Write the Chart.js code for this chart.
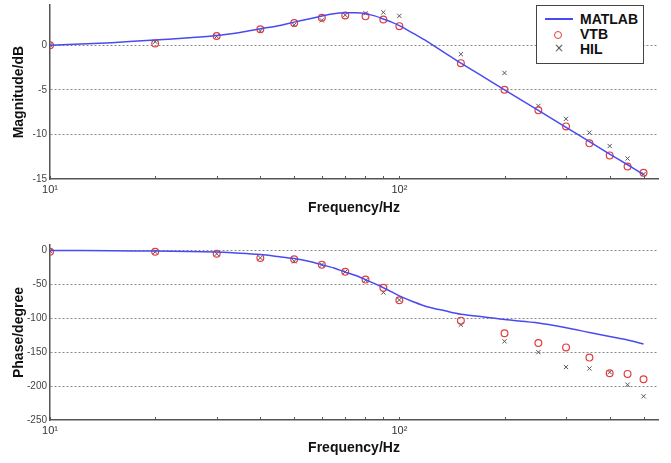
<!DOCTYPE html>
<html>
<head>
<meta charset="utf-8">
<script src="https://cdn.jsdelivr.net/npm/chart.js@4"></script>
<style>
html, body { margin: 0; padding: 0; background: #fff; }
#wrap { position: relative; width: 671px; height: 463px; overflow: hidden; }
#c1 { position: absolute; left: 0; top: 0; }
#c2 { position: absolute; left: 0; top: 217px; }
#legend { position: absolute; left: 536px; top: 5px; width: 106px; height: 57px; border: 1px solid #444; background: #fff;
  font: bold 14px 'Liberation Sans', Arial, sans-serif; color: #111; }
#legend .row { position: absolute; left: 0; height: 15px; width: 106px; }
#legend .txt { position: absolute; left: 43px; top: 0; line-height: 15px; }
#legend .ln { position: absolute; left: 8px; top: 6px; width: 28px; height: 2px; background: #4a4af2; }
#legend .circ { position: absolute; left: 17px; top: 4px; width: 6px; height: 6px; border: 1px solid #e23c3c; border-radius: 50%; }
#legend .x { position: absolute; left: 17px; top: -1px; font: normal 12px 'DejaVu Sans', sans-serif; color: #555; }
</style>
</head>
<body>
<div id="wrap">
  <canvas id="c1" width="671" height="217"></canvas>
  <canvas id="c2" width="671" height="246"></canvas>
  <div id="legend">
    <div class="row" style="top:6px"><span class="ln"></span><span class="txt">MATLAB</span></div>
    <div class="row" style="top:21px"><span class="circ"></span><span class="txt">VTB</span></div>
    <div class="row" style="top:36px"><span class="x">×</span><span class="txt">HIL</span></div>
  </div>
</div>
<script>
// measured points (Hz)
const freqs = [10, 20, 30, 40, 50, 60, 70, 80, 90, 100, 150, 200, 250, 300, 350, 400, 450, 500];
const magVTB = [0, 0.2, 1.05, 1.8, 2.5, 3.1, 3.35, 3.25, 2.9, 2.15, -2.0, -5.0, -7.3, -9.1, -11.0, -12.35, -13.6, -14.3];
const magHIL = [0, 0.4, 1.0, 1.6, 2.3, 2.8, 3.4, 3.6, 3.7, 3.3, -1.0, -3.1, -6.8, -8.25, -9.8, -11.3, -12.7, -14.45];
const phaseVTB = [-2, -2, -5, -11, -13, -21, -31.5, -43, -55, -73.5, -103.5, -122, -136.5, -143, -158, -181, -182, -190];
const phaseHIL = [-1, -2, -5, -11, -16, -21, -31.5, -44, -62, -73, -109.5, -134, -150, -172, -174, -179.5, -198, -215];

// MATLAB curve
const lineFreqs = [10, 15, 20, 25, 30, 35, 40, 45, 50, 55, 60, 65, 70, 75, 80, 85, 90, 95, 100, 110, 120, 135, 150, 175, 200, 250, 300, 350, 400, 450, 500];
const magLine = [0, 0.3, 0.6, 0.85, 1.1, 1.45, 1.85, 2.2, 2.6, 2.95, 3.3, 3.55, 3.65, 3.65, 3.55, 3.3, 2.95, 2.6, 2.2, 1.3, 0.45, -0.85, -2.0, -3.6, -5.0, -7.3, -9.2, -10.8, -12.2, -13.4, -14.5];
const phaseLine = [0, -0.5, -1, -1.5, -2.5, -4, -6, -9, -12, -16, -21, -26, -32, -37, -43, -49, -55, -61, -67, -76, -83, -89, -94, -98, -102, -107, -114, -121, -127, -132, -138];

// axis ticks
const xTicks = [10, 20, 30, 40, 50, 60, 70, 80, 90, 100, 200, 300, 400, 500];
const xTickLabels = { 10: '10¹', 100: '10²' };
const magTicks = [-15, -10, -5, 0];
const phaseTicks = [-250, -200, -150, -100, -50, 0];

const pts = (xs, ys) => xs.map((x, i) => ({ x: x, y: ys[i] }));

// small inward tick marks on the frequency axis
const innerTicks = {
  id: 'innerTicks',
  afterDraw(chart) {
    const x = chart.scales.x, y = chart.scales.y, ctx = chart.ctx;
    ctx.save();
    ctx.strokeStyle = '#555';
    ctx.lineWidth = 1;
    x.ticks.forEach(t => {
      const px = Math.round(x.getPixelForValue(t.value)) + 0.5;
      ctx.beginPath();
      ctx.moveTo(px, y.bottom);
      ctx.lineTo(px, y.bottom - 3);
      ctx.stroke();
    });
    ctx.restore();
  }
};

function makeChart(id, lineY, vtbY, hilY, yTicks, yMin, yMax, yTitle, padTop, padBottom, xHeight) {
  return new Chart(document.getElementById(id), {
    type: 'scatter',
    data: {
      datasets: [
        {
          label: 'MATLAB',
          data: pts(lineFreqs, lineY),
          showLine: true,
          borderColor: '#4a4af2',
          borderWidth: 1.5,
          pointRadius: 0,
          tension: 0.3,
        },
        {
          label: 'VTB',
          data: pts(freqs, vtbY),
          pointStyle: 'circle',
          pointRadius: 3.4,
          borderColor: '#e23c3c',
          backgroundColor: 'rgba(0,0,0,0)',
          borderWidth: 1.2,
        },
        {
          label: 'HIL',
          data: pts(freqs, hilY),
          pointStyle: 'crossRot',
          pointRadius: 3,
          borderColor: '#555',
          borderWidth: 1,
        }
      ],
    },
    options: {
      responsive: false,
      animation: false,
      layout: { padding: { left: 0, right: 13, top: padTop, bottom: padBottom } },
      plugins: { legend: { display: false }, tooltip: { enabled: false } },
      scales: {
        x: {
          type: 'logarithmic',
          min: 10,
          max: 550,
          afterBuildTicks: s => { s.ticks = xTicks.map(v => ({ value: v })); },
          afterFit: s => { s.height = xHeight; s.paddingLeft = 0; s.paddingRight = 0; },
          ticks: {
            autoSkip: false,
            maxRotation: 0,
            padding: 4,
            color: '#333',
            font: { family: 'Liberation Sans', size: 11 },
            callback: v => xTickLabels[v] || '',
          },
          grid: { drawOnChartArea: false, drawTicks: false },
          border: { color: '#555', width: 1.5 },
          title: {
            display: true,
            text: 'Frequency/Hz',
            color: '#111',
            font: { family: 'Liberation Sans', size: 14, weight: 'bold' },
            padding: { top: 0, bottom: 0 },
          },
        },
        y: {
          min: yMin,
          max: yMax,
          afterBuildTicks: s => { s.ticks = yTicks.map(v => ({ value: v })); },
          afterFit: s => { s.width = 50; s.paddingTop = 0; s.paddingBottom = 0; },
          ticks: {
            padding: 3,
            color: '#444',
            font: { family: 'Liberation Sans', size: 10 },
          },
          grid: {
            color: c => (c.tick && c.tick.value === yMin) ? 'rgba(0,0,0,0)' : '#888',
            lineWidth: 1,
            drawTicks: false,
          },
          border: { color: '#555', width: 1.5, dash: [2, 2] },
          title: {
            display: true,
            text: yTitle,
            color: '#111',
            font: { family: 'Liberation Sans', size: 14, weight: 'bold' },
            padding: { top: 11, bottom: 0 },
          },
        },
      },
    },
    plugins: [innerTicks],
  });
}

makeChart('c1', magLine, magVTB, magHIL, magTicks, -15, 4.5, 'Magnitude/dB', 2, 0, 38);
makeChart('c2', phaseLine, phaseVTB, phaseHIL, phaseTicks, -250, 8, 'Phase/degree', 28, 6, 37);
</script>
</body>
</html>
